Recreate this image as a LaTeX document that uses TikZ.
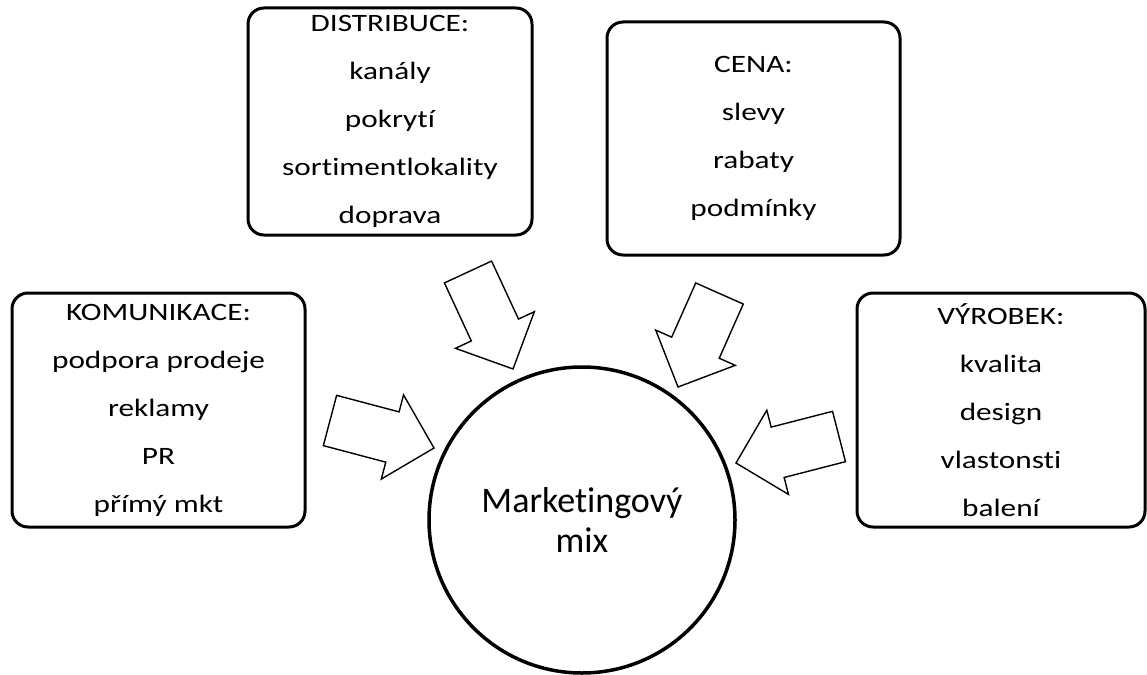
\documentclass[tikz,border=0pt]{standalone}
\usepackage{fontspec}
\setmainfont[Ligatures=NoCommon]{Carlito}
\newfontfamily\boxfont[FakeStretch=1.25,Ligatures=NoCommon]{Carlito}
\usetikzlibrary{calc}
% outlined block arrow from tail point #1 to tip point #2
\newcommand{\fatarrow}[2]{%
  \draw[fat] let \p1=($(#2)-(#1)$), \n1={atan2(\y1,\x1)} in
    ($(#1)+({\n1+90}:26)$) -- ($(#2)+({\n1+180}:43)+({\n1+90}:26)$)
    -- ($(#2)+({\n1+180}:43)+({\n1+90}:43.5)$) -- (#2)
    -- ($(#2)+({\n1+180}:43)+({\n1-90}:43.5)$)
    -- ($(#2)+({\n1+180}:43)+({\n1-90}:26)$)
    -- ($(#1)+({\n1-90}:26)$) -- cycle;}

\begin{document}
\begin{tikzpicture}[x=1pt,y=1pt,
  box/.style={draw,line width=3pt,rounded corners=16pt,align=center,inner sep=0pt,
              font=\boxfont\fontsize{25}{48}\selectfont},
  fat/.style={draw,line width=1.4pt,fill=white,line join=miter}]
  \useasboundingbox (0,0) rectangle (1147,-674);
  % the four boxes
  \node[box,minimum width=293,minimum height=234] (komunikace) at (158.5,-410)
    {KOMUNIKACE:\\podpora prodeje\\reklamy\\PR\\přímý mkt};
  \node[box,minimum width=284,minimum height=227] (distribuce) at (390,-121.5)
    {DISTRIBUCE:\\kanály\\pokrytí\\sortimentlokality\\doprava};
  \node[box,minimum width=293,minimum height=233] (cena) at (753.5,-138.5)
    {CENA:\\slevy\\rabaty\\podmínky};
  \node[box,minimum width=288,minimum height=234] (vyrobek) at (1001,-410)
    {VÝROBEK:\\kvalita\\design\\vlastonsti\\balení};
  % centre
  \node[circle,draw,line width=3.5pt,minimum size=306,inner sep=0pt,align=center,
        font=\fontsize{36}{40}\selectfont] (mix) at (582,-520) {Marketingový\\mix};
  % arrows
  \coordinate (dS) at (468,-272);   \coordinate (dT) at (513,-369);
  \coordinate (cS) at (719.5,-293.5); \coordinate (cT) at (678,-387);
  \coordinate (kS) at (330,-420.5); \coordinate (kT) at (434,-448);
  \coordinate (vS) at (839,-436.5); \coordinate (vT) at (736,-463);
  \fatarrow{dS}{dT}
  \fatarrow{cS}{cT}
  \fatarrow{kS}{kT}
  \fatarrow{vS}{vT}
\end{tikzpicture}
\end{document}
